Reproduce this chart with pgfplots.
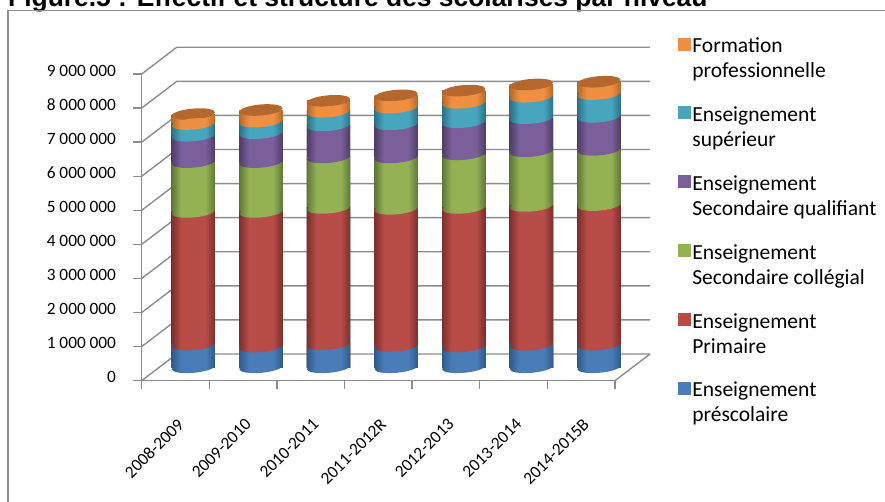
\documentclass[border=0pt]{standalone}
\usepackage{fontspec}
\setmainfont{Carlito}
\newfontfamily\titlefont{Liberation Sans}
\usepackage{pgfplots}
\usepackage{pgfplotstable}
\pgfplotsset{compat=1.18}

% running totals at the top of each level
\pgfplotstableread{
x   presco  primaire college  qualif  sup     form
0.5 664000  4560000  6020000  6795000 7140000 7430000
1.5 606000  4560000  6020000  6870000 7210000 7550000
2.5 673000  4677000  6160000  7100000 7500000 7820000
3.5 626000  4650000  6160000  7130000 7620000 7980000
4.5 610000  4677000  6250000  7190000 7760000 8120000
5.5 660000  4735000  6340000  7310000 7940000 8300000
6.5 665000  4760000  6380000  7350000 8020000 8380000
}\scol

\definecolor{gridc}{HTML}{8C8C8C}
\definecolor{capc}{HTML}{B4682E}
\newcommand{\cylshade}[3]{%
  \pgfdeclarehorizontalshading{#1}{100bp}{%
    color(0bp)=(#2); color(25bp)=(#2); color(36bp)=(#3); color(50bp)=(#3); color(64bp)=(#3); color(75bp)=(#2); color(100bp)=(#2)}%
  \pgfdeclareplotmark{#1}{%
    \pgfpathellipse{\pgfpointorigin}{\pgfqpoint{21.6pt}{1.9pt}}{\pgfqpoint{-0.5pt}{5.5pt}}%
    \pgfshadepath{#1}{0}\pgfusepath{discard}}%
}
\definecolor{bD}{HTML}{2F5A8C}\definecolor{bL}{HTML}{4A7DB8}
\definecolor{rD}{HTML}{7C2F2D}\definecolor{rL}{HTML}{B84C49}
\definecolor{gD}{HTML}{5F7838}\definecolor{gL}{HTML}{94B254}
\definecolor{pD}{HTML}{4F3D66}\definecolor{pL}{HTML}{7A5F9A}
\definecolor{tD}{HTML}{2C7187}\definecolor{tL}{HTML}{47A5BE}
\definecolor{oD}{HTML}{B5682B}\definecolor{oL}{HTML}{EE8F42}
\cylshade{cylB}{bD}{bL}
\cylshade{cylR}{rD}{rL}
\cylshade{cylG}{gD}{gL}
\cylshade{cylP}{pD}{pL}
\cylshade{cylT}{tD}{tL}
\cylshade{cylO}{oD}{oL}
\pgfdeclareplotmark{capmark}{%
  \pgfpathellipse{\pgfpointorigin}{\pgfqpoint{21.6pt}{1.9pt}}{\pgfqpoint{-0.5pt}{5.5pt}}%
  \pgfsetfillcolor{capc}\pgfusepathqfill}

% painted from the top level down: full bars, then the arc of the level above.
% one plot per bar, or the shading runs across all seven
\newcommand{\onebar}[3]{%
  \addplot[ybar,bar shift=0pt,bar width=43.3pt,draw=none,shading=#1,
    restrict x to domain=#3] table[x=x,y=#2] {\scol};
}
\newcommand{\segment}[3]{%
  \onebar{#1}{#2}{0.3:0.7}\onebar{#1}{#2}{1.3:1.7}\onebar{#1}{#2}{2.3:2.7}\onebar{#1}{#2}{3.3:3.7}%
  \onebar{#1}{#2}{4.3:4.7}\onebar{#1}{#2}{5.3:5.7}\onebar{#1}{#2}{6.3:6.7}%
  \addplot[only marks,draw=none,mark=#3] table[x=x,y=#2] {\scol};
}

\begin{document}
\begin{tikzpicture}[x=1pt,y=1pt]
\useasboundingbox (0,0) rectangle (885,502);
\node[anchor=base west,inner sep=0pt,font=\titlefont\bfseries\fontsize{26.4}{26.4}\selectfont] at (8,495.5) {Figure.5 : Effectif et structure des scolarisés par niveau};
\draw[gridc,line width=1.4pt] (8,-5) -- (8,491.5) -- (890,491.5);

% frame with ticks, labels, walls
\begin{axis}[
    at={(141.7pt,121.3pt)},anchor=origin,
    scale only axis,width=473.3pt,height=306.7pt,
    xmin=0,xmax=7,ymin=0,ymax=9000000,
    clip=false,
    axis x line*=bottom,axis y line*=left,
    axis line style={-,gridc,line width=1.4pt},
    tick style={gridc,line width=1.4pt},
    tick align=outside,
    major tick length=8.5pt,
    xtick={0,1,2,3,4,5,6,7},xticklabels={},
    extra x ticks={0.5,1.5,2.5,3.5,4.5,5.5,6.5},
    extra x tick labels={2008-2009,2009-2010,2010-2011,2011-2012R,2012-2013,2013-2014,2014-2015B},
    extra x tick style={major tick length=0pt,
      xticklabel style={xshift=1pt,yshift=-36.5pt,rotate=45,anchor=north east,inner sep=0pt,
        font=\fontsize{17.3}{17.3}\selectfont}},
    ytick={0,1000000,2000000,3000000,4000000,5000000,6000000,7000000,8000000,9000000},
    yticklabels={0,1 000 000,2 000 000,3 000 000,4 000 000,5 000 000,6 000 000,7 000 000,8 000 000,9 000 000},
    yticklabel style={anchor=east,inner sep=0pt,xshift=-17pt,yshift=3.5pt,font=\fontsize{17.3}{17.3}\selectfont},
    scaled y ticks=false,
    legend style={at={(axis description cs:1.133,1.1238)},anchor=north west,draw=none,fill=none,
      inner sep=0pt,outer sep=0pt,font=\fontsize{21.5}{25}\selectfont,
      cells={align=left,anchor=base west},
      row sep=23.5pt},
    legend image code/.code={\fill[#1] (0pt,28pt) rectangle (12pt,40pt);},
]
\pgfplotsinvokeforeach{0,1000000,2000000,3000000,4000000,5000000,6000000,7000000,8000000,9000000}{
  \draw[gridc,line width=1.4pt] (axis cs:0,#1) -- ++(35pt,26.7pt) -- ++(473.3pt,0pt);
}
\draw[gridc,line width=1.4pt] (axis cs:7,0) -- ++(35pt,26.7pt);
\addlegendimage{oL}\addlegendentry{Formation\\professionnelle}
\addlegendimage{tL}\addlegendentry{Enseignement\\supérieur}
\addlegendimage{pL}\addlegendentry{Enseignement\\Secondaire qualifiant}
\addlegendimage{gL}\addlegendentry{Enseignement\\Secondaire collégial}
\addlegendimage{rL}\addlegendentry{Enseignement\\Primaire}
\addlegendimage{bL}\addlegendentry{Enseignement\\préscolaire}
\end{axis}

% the cylinders, on the plane half way back
\begin{axis}[
    at={(159.5pt,134.7pt)},anchor=origin,
    scale only axis,width=473.3pt,height=306.7pt,
    xmin=0,xmax=7,ymin=0,ymax=9000000,
    hide axis,clip=false,
]
\segment{cylO}{form}{capmark}
\segment{cylT}{sup}{cylO}
\segment{cylP}{qualif}{cylT}
\segment{cylG}{college}{cylP}
\segment{cylR}{primaire}{cylG}
\segment{cylB}{presco}{cylR}
\addplot[only marks,draw=none,mark=cylB] table[x=x,y expr=0] {\scol};
\end{axis}
\end{tikzpicture}
\end{document}
